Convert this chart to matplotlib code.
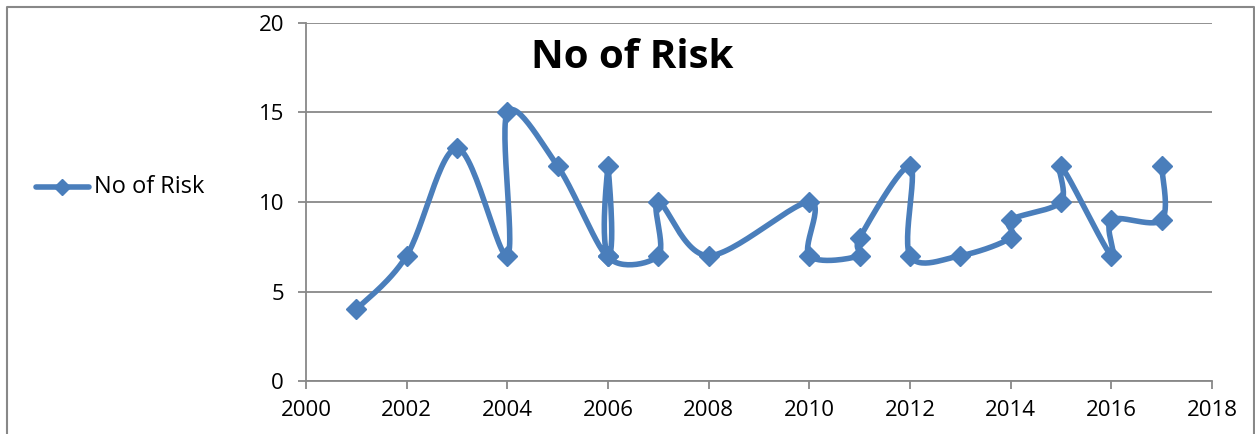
import numpy as np
import matplotlib
matplotlib.use("Agg")
import matplotlib.pyplot as plt
from matplotlib.lines import Line2D

# Data (x, y points in plotting order, as in the Excel scatter)
years = [2001, 2002, 2003, 2004, 2004, 2005, 2006, 2006, 2006, 2007, 2007, 2008,
         2010, 2010, 2011, 2011, 2012, 2012, 2013, 2014, 2014, 2015, 2015, 2016,
         2016, 2017, 2017]
risks = [4, 7, 13, 7, 15, 12, 7, 12, 7, 7, 10, 7,
         10, 7, 7, 8, 12, 7, 7, 8, 9, 10, 12, 7,
         9, 9, 12]
series_name = "No of Risk"
title = "No of Risk"
x_ticks = list(range(2000, 2019, 2))
y_ticks = [0, 5, 10, 15, 20]

blue = "#4A7EBB"
grey = "#888888"
plt.rcParams["font.family"] = ["Open Sans", "DejaVu Sans"]

fig = plt.figure(figsize=(12.55, 4.34), dpi=100)
ax = fig.add_axes([306 / 1255, 1 - 381 / 434, (1212 - 306) / 1255, (381 - 23) / 434])
ax.set_xlim(2000, 2018)
ax.set_ylim(0, 20)


def smooth(xs, ys, n=30):
    # Excel-like smoothed line: cardinal bezier built in pixel space
    pts = ax.transData.transform(np.column_stack([xs, ys]))
    p = np.vstack([pts[0], pts, pts[-1]])
    out = []
    t = np.linspace(0, 1, n)[:, None]
    for i in range(1, len(p) - 2):
        p0, p1, p2, p3 = p[i - 1], p[i], p[i + 1], p[i + 2]
        c1 = p1 + (p2 - p0) / 6
        c2 = p2 - (p3 - p1) / 6
        seg = ((1 - t) ** 3 * p1 + 3 * (1 - t) ** 2 * t * c1
               + 3 * (1 - t) * t ** 2 * c2 + t ** 3 * p2)
        out.append(seg)
    curve = np.vstack(out)
    return ax.transData.inverted().transform(curve)


curve = smooth(years, risks)
ax.plot(curve[:, 0], curve[:, 1], color=blue, lw=4, solid_capstyle="round",
        solid_joinstyle="round", zorder=3)
ax.plot(years, risks, linestyle="none", marker="D", ms=10.5, color=blue, zorder=4)

# Axes styling
for s in ["top", "right"]:
    ax.spines[s].set_visible(False)
for s in ["left", "bottom"]:
    ax.spines[s].set_color(grey)
    ax.spines[s].set_linewidth(1.3)
ax.set_xticks(x_ticks)
ax.set_yticks(y_ticks)
ax.tick_params(axis="both", direction="out", length=5.8, width=1.3, color=grey,
               labelsize=16)
ax.tick_params(axis="y", pad=10)
ax.tick_params(axis="x", pad=8)
ax.grid(axis="y", color=grey, lw=1.3, zorder=0)
ax.set_axisbelow(True)

ax.text(0.360, 0.905, title, transform=ax.transAxes, ha="center", va="center",
        fontsize=29, fontweight="bold")

# Legend drawn at left
fig.add_artist(Line2D([36 / 1255, 89 / 1255], [1 - 187 / 434] * 2, color=blue, lw=4,
                      solid_capstyle="round", transform=fig.transFigure))
fig.add_artist(Line2D([62 / 1255], [1 - 187 / 434], marker="D", ms=8, color=blue,
                      transform=fig.transFigure))
fig.text(94 / 1255, 1 - 187 / 434, series_name, ha="left", va="center", fontsize=17)

# Chart border
bx0, bx1, by1 = 7 / 1255, 1254 / 1255, 1 - 7 / 434
fig.add_artist(Line2D([bx0, bx0, bx1, bx1], [0, by1, by1, 0], color=grey, lw=1.5,
                      transform=fig.transFigure))

fig.savefig("out.png", dpi=100)
